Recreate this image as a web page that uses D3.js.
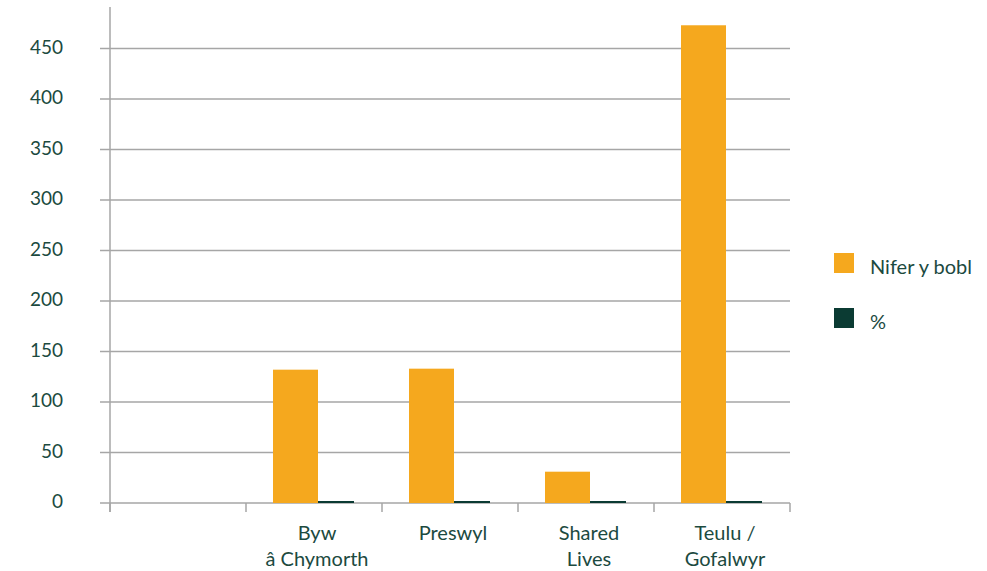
<!DOCTYPE html>
<html>
<head>
<meta charset="utf-8">
<script src="https://cdn.jsdelivr.net/npm/d3@7"></script>
<style>
  body { margin: 0; background: #fff; }
  text { font-family: Lato, "Open Sans", sans-serif; fill: #1c4a3f; }
</style>
</head>
<body>
<svg id="chart" width="987" height="571"></svg>
<script>
var categories = ["", "Byw\nâ Chymorth", "Preswyl", "Shared\nLives", "Teulu /\nGofalwyr"];
var people = [null, 132, 133, 31, 473];
var percent = [null, 0.17, 0.17, 0.04, 0.61];
var yTicks = [0, 50, 100, 150, 200, 250, 300, 350, 400, 450];
var legendLabels = ["Nifer y bobl", "%"];
var colors = ["#f5a81e", "#0b3b33"];

var svg = d3.select('#chart');

var x = d3.scaleBand().domain(d3.range(categories.length)).range([110, 790]).padding(0);
var y = d3.scaleLinear().domain([0, 450]).range([503, 48.5]);

// gridlines
svg.append('g').selectAll('line').data(yTicks).enter().append('line')
    .attr('x1', 100).attr('x2', 790)
    .attr('y1', function(d) { return y(d) }).attr('y2', function(d) { return y(d) })
    .attr('stroke', '#a6a6a6').attr('stroke-width', 1.5);

// y labels
svg.append('g').selectAll('text').data(yTicks).enter().append('text')
    .attr('x', 63).attr('y', function(d) { return y(d) + 5 })
    .attr('text-anchor', 'end').attr('font-size', 19)
    .text(function(d) { return d });

// y axis line
svg.append('line').attr('x1', 110).attr('x2', 110).attr('y1', 7).attr('y2', 512)
    .attr('stroke', '#a6a6a6').attr('stroke-width', 1.5);

// category ticks
var bounds = d3.range(categories.length + 1).map(function(i) { return i < categories.length ? x(i) : x(i - 1) + x.bandwidth() });
svg.append('g').selectAll('line').data(bounds).enter().append('line')
    .attr('x1', function(d) { return d }).attr('x2', function(d) { return d })
    .attr('y1', 503).attr('y2', 512)
    .attr('stroke', '#a6a6a6').attr('stroke-width', 1.5);

// bars
var idx = d3.range(categories.length).filter(function(i) { return people[i] != null });
svg.append('g').selectAll('rect').data(idx).enter().append('rect')
    .attr('x', function(i) { return x(i) + 27 })
    .attr('width', 45)
    .attr('y', function(i) { return y(people[i]) })
    .attr('height', function(i) { return y(0) - y(people[i]) })
    .attr('fill', colors[0]);

svg.append('g').selectAll('rect').data(idx).enter().append('rect')
    .attr('x', function(i) { return x(i) + 72 })
    .attr('width', 36)
    .attr('y', function(i) { return y(0) - Math.max(2, y(0) - y(percent[i])) })
    .attr('height', function(i) { return Math.max(2, y(0) - y(percent[i])) })
    .attr('fill', colors[1]);

// category labels
var lab = svg.append('g').selectAll('text').data(categories).enter().append('text')
    .attr('text-anchor', 'middle').attr('font-size', 20)
    .attr('x', function(d, i) { return x(i) + x.bandwidth() / 2 + 3 })
    .attr('y', 540);
lab.each(function(d) {
    var t = d3.select(this);
    d.split('\n').forEach(function(line, j) {
        t.append('tspan').attr('x', t.attr('x')).attr('dy', j == 0 ? 0 : 26).text(line);
    });
});

// legend
var leg = svg.append('g').selectAll('g').data(legendLabels).enter().append('g')
    .attr('transform', function(d, i) { return 'translate(834,' + (253 + i * 55) + ')' });
leg.append('rect').attr('width', 20).attr('height', 20).attr('fill', function(d, i) { return colors[i] });
leg.append('text').attr('x', 36).attr('y', 21).attr('font-size', 20).text(function(d) { return d });
</script>
</body>
</html>
